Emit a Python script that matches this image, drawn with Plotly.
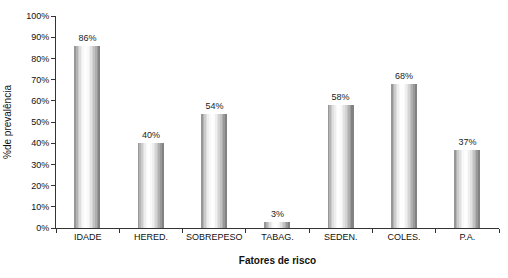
import plotly.graph_objects as go

categories = ["IDADE", "HERED.", "SOBREPESO", "TABAG.", "SEDEN.", "COLES.", "P.A."]
values = [86, 40, 54, 3, 58, 68, 37]
value_labels = ["86%", "40%", "54%", "3%", "58%", "68%", "37%"]
y_ticks = [0, 10, 20, 30, 40, 50, 60, 70, 80, 90, 100]
y_tick_labels = [f"{v}%" for v in y_ticks]

BAR_W = 0.4
N = 16

def gray(t):
    # cylindrical shading: dark edges, white highlight left of centre
    peak = 0.45
    if t <= peak:
        s = t / peak
        v = 135 + (255 - 135) * (1 - (1 - s) ** 2)
    else:
        s = (t - peak) / (1 - peak)
        v = 255 - (255 - 118) * s ** 1.6
    v = int(round(v))
    return f"rgb({v},{v},{v})"

fig = go.Figure()
for k in range(N):
    t = (k + 0.5) / N
    fig.add_trace(go.Bar(
        x=categories, y=values,
        width=BAR_W / N + 0.002,
        offset=-BAR_W / 2 + k * BAR_W / N,
        marker=dict(color=gray(t), line=dict(width=0)),
        hoverinfo="skip", showlegend=False,
    ))

fig.add_trace(go.Bar(
    x=categories, y=values, width=BAR_W, offset=-BAR_W / 2,
    marker=dict(color="rgba(0,0,0,0)", line=dict(width=0)),
    text=value_labels, textposition="outside", cliponaxis=False,
    textfont=dict(family="Liberation Sans, Arial", size=9, color="#222"),
    showlegend=False,
))

fig.update_layout(
    width=508, height=278,
    margin=dict(l=56, r=9, t=16, b=50),
    paper_bgcolor="white", plot_bgcolor="white",
    barmode="overlay", bargap=0,
    font=dict(family="Liberation Sans, Arial", size=9, color="#111"),
    xaxis=dict(
        showline=True, linecolor="#333", linewidth=1,
        ticks="outside", ticklen=4, tickcolor="#333", tickson="boundaries",
        tickangle=0, automargin=False,
        tickfont=dict(size=9, color="#111"),
        title=dict(text="<b>Fatores de risco</b>", font=dict(size=10, color="#111"), standoff=16),
        showgrid=False,
    ),
    yaxis=dict(
        range=[0, 100], tickvals=y_ticks, ticktext=y_tick_labels,
        showline=True, linecolor="#333", linewidth=1,
        ticks="outside", ticklen=4, tickcolor="#333",
        automargin=False,
        tickfont=dict(size=9, color="#111"),
        title=dict(text="%de prevalência", font=dict(size=10, color="#111"), standoff=12),
        showgrid=False, zeroline=False,
    ),
    uniformtext=dict(minsize=9, mode="show"),
)

fig.write_html("out.html")
